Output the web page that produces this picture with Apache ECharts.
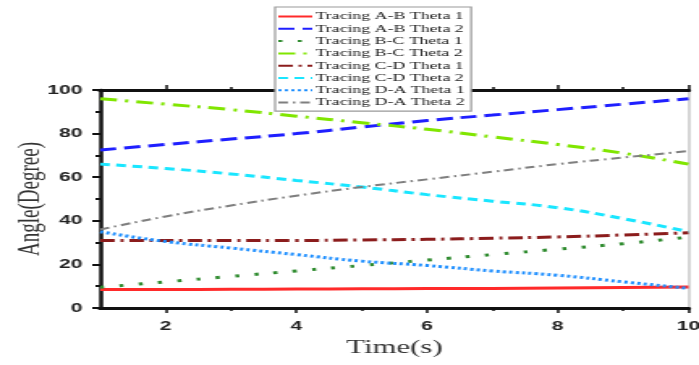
<!DOCTYPE html>
<html><head><meta charset="utf-8">
<script src="https://cdn.jsdelivr.net/npm/echarts@6/dist/echarts.min.js"></script>
<style>html,body{margin:0;padding:0;background:#fff;overflow:hidden}
#wrap{width:699px;height:365px;overflow:hidden}
#c{width:432px;height:365px;transform:scaleX(1.618);transform-origin:0 0}</style>
</head><body><div id="wrap"><div id="c"></div></div>
<script>
var times = [1,2,3,4,5,6,7,8,9,10];
var seriesNames = ['Tracing A-B Theta 1','Tracing A-B Theta 2','Tracing B-C Theta 1','Tracing B-C Theta 2','Tracing C-D Theta 1','Tracing C-D Theta 2','Tracing D-A Theta 1','Tracing D-A Theta 2'];
var abTheta1 = [8.5,8.5,8.6,8.7,8.8,8.9,9.0,9.2,9.4,9.6];
var abTheta2 = [72.5,75,77.5,80,83,86,88.5,91,93.5,96];
var bcTheta1 = [9.5,12,14.5,17,19.5,22,24.5,27,29.5,32.5];
var bcTheta2 = [96,93.5,91,88,85,82,78.5,75,71,66];
var cdTheta1 = [31,31,31,31,31.2,31.5,32,32.6,33.5,34.5];
var cdTheta2 = [66,64,61.5,58.5,55.5,52,49,46,41,35];
var daTheta1 = [35,30.5,27.5,24.5,21.5,19.5,17,15,12,9];
var daTheta2 = [36,42,47,51.5,55.5,59,62.5,66,69,72];
var xMajorTicks = [2,4,6,8,10];
var xMinorTicks = [3,5,7,9];

var values = [abTheta1,abTheta2,bcTheta1,bcTheta2,cdTheta1,cdTheta2,daTheta1,daTheta2];
var styles = [
  {color:'#ff2a2a', width:3, type:'solid'},
  {color:'#1f1fff', width:3, type:[10,5]},
  {color:'#2e8b2e', width:3, type:[2.5,9.5]},
  {color:'#80e600', width:3, type:[10.5,5,2,5]},
  {color:'#8b1c1c', width:3, type:[9,3.5,2,3.5]},
  {color:'#19e6ff', width:3, type:[6,4]},
  {color:'#1e8fff', width:3, type:[2,2]},
  {color:'#7f7f7f', width:2, type:[6,3,1.5,3]}
];
function pairs(v){ return times.map(function(t,i){ return [t, v[i]]; }); }
var series = seriesNames.map(function(n,i){
  return {name:n, type:'line', data:pairs(values[i]), symbol:'none', smooth:true,
    xAxisIndex:0, yAxisIndex:0,
    lineStyle:{color:styles[i].color, width:styles[i].width, type:styles[i].type},
    itemStyle:{color:styles[i].color}};
});
var tickFontFamily = 'Liberation Sans, Arial';
function xAx(pos, vals, len, showLabel, name){
  return {type:'value', min:1, max:10, position:pos,
    name:name||'', nameLocation:'middle', nameGap:31, nameMoveOverlap:false,
    nameTextStyle:{fontFamily:'Liberation Serif', fontSize:19, color:'#333'},
    axisLine:{show:true, onZero:false, lineStyle:{color:'#111', width:3}},
    axisTick:{show:true, inside:false, length:len, customValues:vals, lineStyle:{color:'#111', width:1.5}},
    axisLabel:{show:showLabel, customValues:vals, margin:12, fontFamily:tickFontFamily, fontWeight:'bold', fontSize:13, color:'#222'},
    splitLine:{show:false}};
}
var option = {
  animation:false,
  backgroundColor:'#fff',
  grid:{left:62, right:6.5, top:90, bottom:57, containLabel:false, outerBoundsMode:'none'},
  legend:{orient:'vertical', left:170, top:7, padding:[4,4,3,1], itemGap:1.3, itemWidth:21, itemHeight:11,
    backgroundColor:'#fff', borderColor:'#999', borderWidth:1.2,
    itemStyle:{opacity:0},
    textStyle:{fontFamily:'Liberation Serif', fontSize:11, color:'#222', padding:[0,0,0,-3]},
    data:seriesNames},
  xAxis:[
    xAx('bottom', xMajorTicks, 5, true, 'Time(s)'),
    xAx('bottom', xMinorTicks, 3, false),
    xAx('top', xMajorTicks, 5, false),
    xAx('top', xMinorTicks, 3, false)
  ],
  yAxis:[
    {type:'value', min:0, max:100, interval:20, position:'left',
     name:'Angle(Degree)', nameLocation:'middle', nameGap:33, nameRotate:90, nameMoveOverlap:false,
     nameTextStyle:{fontFamily:'Liberation Serif', fontSize:19, color:'#333'},
     axisLine:{show:true, lineStyle:{color:'#111', width:2.5}},
     axisTick:{show:true, length:5, lineStyle:{color:'#111', width:2}},
     minorTick:{show:true, splitNumber:2, length:3, lineStyle:{color:'#111', width:2}},
     axisLabel:{margin:11, fontFamily:tickFontFamily, fontWeight:'bold', fontSize:13, color:'#222'},
     splitLine:{show:false}},
    {type:'value', min:0, max:100, position:'right',
     axisLine:{show:true, lineStyle:{color:'#c8c8c8', width:1.5}},
     axisTick:{show:false}, axisLabel:{show:false}, splitLine:{show:false}}
  ],
  series:series
};
var chart = echarts.init(document.getElementById('c'), null, {renderer:'canvas'});
chart.setOption(option);
</script></body></html>
